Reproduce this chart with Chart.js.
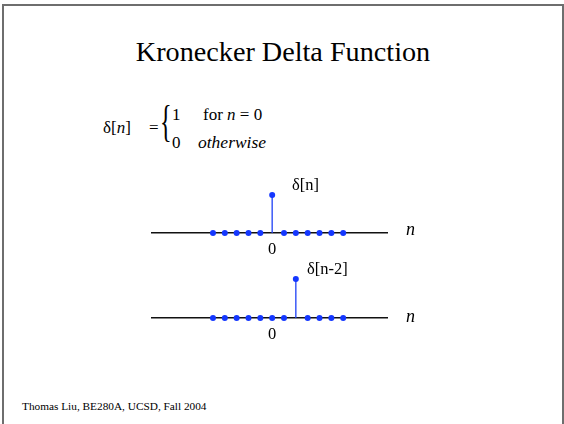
<!DOCTYPE html>
<html>
<head>
<meta charset="utf-8">
<script src="https://cdn.jsdelivr.net/npm/chart.js@4/dist/chart.umd.min.js"></script>
<style>
  body{margin:0;width:564px;height:424px;overflow:hidden;background:#fff;position:relative;
       font-family:"Liberation Serif","DejaVu Serif","Times New Roman",serif;color:#000;}
  .t{position:absolute;white-space:nowrap;line-height:1;}
  .frame{position:absolute;left:2px;top:4px;width:562px;height:440px;border:2px solid #6e6e6e;box-sizing:border-box;}
  canvas{position:absolute;}
</style>
</head>
<body>
<div class="frame"></div>

<div class="t" style="left:0;width:566px;text-align:center;top:38px;font-size:28.2px;">Kronecker Delta Function</div>

<div class="t" style="left:103px;top:119px;font-size:17px;">δ[<i>n</i>]</div>
<div class="t" style="left:149px;top:119px;font-size:17px;">=</div>
<div class="t" style="left:160px;top:100px;font-size:44px;transform:scaleX(0.55);transform-origin:left top;">{</div>
<div class="t" style="left:172px;top:106px;font-size:17px;">1</div>
<div class="t" style="left:203px;top:106px;font-size:17px;">for <i>n</i> = 0</div>
<div class="t" style="left:172px;top:134px;font-size:17px;">0</div>
<div class="t" style="left:198px;top:134px;font-size:17.5px;font-style:italic;">otherwise</div>

<canvas id="stem1" width="260" height="80" style="left:140px;top:180px;"></canvas>
<canvas id="stem2" width="260" height="80" style="left:140px;top:265px;"></canvas>

<div class="t" style="left:292px;top:177px;font-size:16.5px;">δ[n]</div>
<div class="t" style="left:307px;top:261px;font-size:16.5px;">δ[n-2]</div>
<div class="t" style="left:406px;top:220px;font-size:18px;font-style:italic;">n</div>
<div class="t" style="left:406px;top:307px;font-size:18px;font-style:italic;">n</div>

<div class="t" style="left:22px;top:401px;font-size:11.3px;">Thomas Liu, BE280A, UCSD, Fall 2004</div>

<script>
// sample index and the two sequences
var nValues = [-5,-4,-3,-2,-1,0,1,2,3,4,5,6];
var deltaN  = [0,0,0,0,0,1,0,0,0,0,0,0];
var deltaN2 = [0,0,0,0,0,0,0,1,0,0,0,0];
var xTicks  = [0];

var dotColor = "rgb(20,55,255)";
var stemColor = "rgb(30,65,245)";

function makeStemChart(id, values, padTop){
    var pts = nValues.map(function(n,i){ return {x:n, y:values[i]}; });
    var stems = [];
    for(var i=0;i<nValues.length;i++){
        if(values[i]!==0){
            stems.push({x:nValues[i],y:0},{x:nValues[i],y:values[i]},{x:nValues[i],y:null});
        }
    }
    return new Chart(document.getElementById(id), {
        type: 'scatter',
        data: {
            datasets: [
                {data: pts, pointRadius: 3, pointBackgroundColor: dotColor, pointBorderWidth: 0, clip: false},
                {data: stems, showLine: true, spanGaps: false, borderColor: stemColor, borderWidth: 1.3, pointRadius: 0, clip: false}
            ]
        },
        options: {
            responsive: false,
            animation: false,
            layout: {padding: {left: 12, right: 13, top: padTop, bottom: 0}},
            plugins: {legend: {display: false}, tooltip: {enabled: false}},
            scales: {
                x: {
                    type: 'linear', min: -10.15, max: 9.7,
                    afterBuildTicks: function(s){ s.ticks = xTicks.map(function(v){ return {value: v}; }); },
                    afterFit: function(s){ s.height = 27; },
                    grid: {display: false, drawTicks: false},
                    border: {display: true, color: '#111', width: 1.4},
                    ticks: {color: '#000', padding: 7, font: {family: 'Liberation Serif', size: 16.5}}
                },
                y: {display: false, min: 0, max: 1}
            }
        }
    });
}

makeStemChart("stem1", deltaN, 15);
makeStemChart("stem2", deltaN2, 14);
</script>
</body>
</html>
